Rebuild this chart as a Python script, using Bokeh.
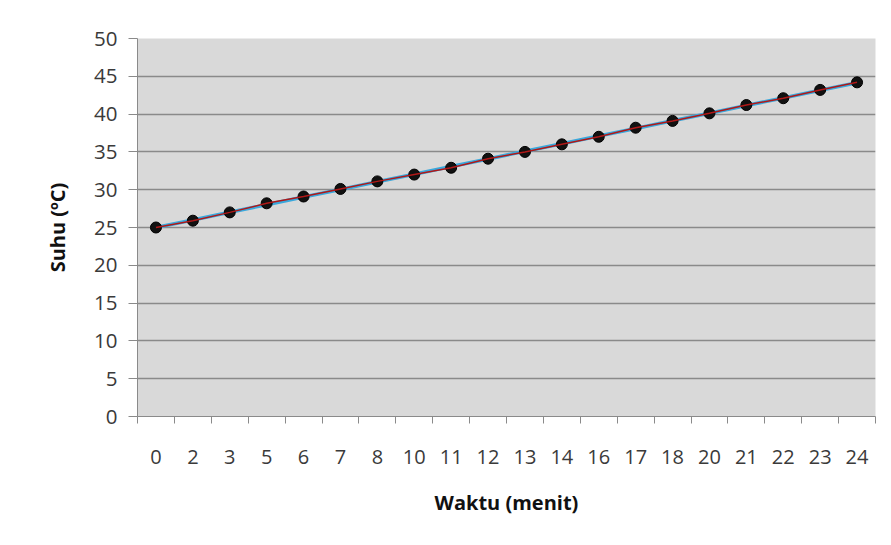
import numpy as np
from bokeh.plotting import figure
from bokeh.models import FixedTicker, Range1d
from bokeh.embed import file_html
from bokeh.resources import INLINE

categories = ["0", "2", "3", "5", "6", "7", "8", "10", "11", "12", "13", "14",
              "16", "17", "18", "20", "21", "22", "23", "24"]
suhu = [25.0, 25.9, 27.0, 28.2, 29.1, 30.1, 31.1, 32.0, 32.9, 34.1, 35.0, 36.0,
        37.0, 38.2, 39.1, 40.1, 41.2, 42.1, 43.2, 44.2]
y_ticks = [0, 5, 10, 15, 20, 25, 30, 35, 40, 45, 50]

idx = list(range(len(categories)))
coef = np.polyfit(idx, suhu, 1)
trend = [coef[0] * i + coef[1] for i in idx]

FONT = "Open Sans"

p = figure(width=885, height=537, output_backend="svg", toolbar_location=None,
           x_range=Range1d(-0.5, len(categories) - 0.5), y_range=Range1d(0, 50),
           min_border_left=137, min_border_right=10, min_border_top=38, min_border_bottom=121)
p.background_fill_color = "#d9d9d9"
p.border_fill_color = "white"
p.outline_line_color = None

p.xgrid.grid_line_color = None
p.ygrid.grid_line_color = "#8a8a8a"
p.ygrid.grid_line_width = 1.5

p.yaxis.ticker = FixedTicker(ticks=y_ticks)
p.yaxis.major_tick_out = 9
p.yaxis.major_tick_in = 0
p.yaxis.minor_tick_line_color = None
p.yaxis.axis_line_color = "#8a8a8a"
p.yaxis.major_tick_line_color = "#8a8a8a"
p.yaxis.major_label_text_font = FONT
p.yaxis.major_label_text_font_size = "20.5px"
p.yaxis.major_label_text_color = "#3a3a3a"
p.yaxis.major_label_standoff = 11
p.yaxis.axis_label = "Suhu (ºC)"
p.yaxis.axis_label_text_font = FONT
p.yaxis.axis_label_text_font_style = "bold"
p.yaxis.axis_label_text_font_size = "20px"
p.yaxis.axis_label_text_color = "#111111"
p.yaxis.axis_label_standoff = 20

boundaries = [i - 0.5 for i in range(len(categories) + 1)]
p.xaxis.ticker = FixedTicker(ticks=idx, minor_ticks=boundaries)
p.xaxis.major_label_overrides = {i: c for i, c in enumerate(categories)}
p.xaxis.major_tick_line_color = None
p.xaxis.major_tick_out = 0
p.xaxis.major_tick_in = 0
p.xaxis.minor_tick_out = 7
p.xaxis.minor_tick_in = 0
p.xaxis.minor_tick_line_color = "#8a8a8a"
p.xaxis.axis_line_color = "#8a8a8a"
p.xaxis.major_label_text_font = FONT
p.xaxis.major_label_text_font_size = "20px"
p.xaxis.major_label_text_color = "#3a3a3a"
p.xaxis.major_label_standoff = 26
p.xaxis.axis_label = "Waktu (menit)"
p.xaxis.axis_label_text_font = FONT
p.xaxis.axis_label_text_font_style = "bold"
p.xaxis.axis_label_text_font_size = "20px"
p.xaxis.axis_label_text_color = "#111111"
p.xaxis.axis_label_standoff = 22

p.line(idx, trend, line_color="#3aa8dc", line_width=3.5)
p.scatter(idx, suhu, size=11, fill_color="#111111", line_color="#000000")
p.line(idx, suhu, line_color="#b01818", line_width=1.5)

open("out.html", "w").write(file_html(p, INLINE))
